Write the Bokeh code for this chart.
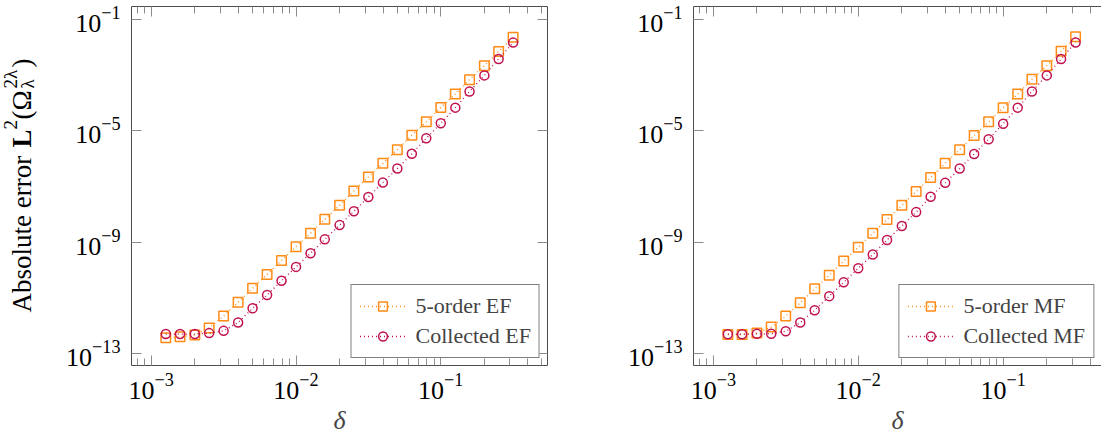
from math import pi
from bokeh.plotting import figure
from bokeh.models import (Range1d, LogAxis, FixedTicker, Legend, LegendItem,
                          CustomJSTickFormatter)
from bokeh.layouts import row
from bokeh.embed import file_html
from bokeh.resources import INLINE
from bokeh.core.properties import value

# ---------------- data ----------------
delta = [0.00126, 0.00158, 0.002, 0.00251, 0.00316, 0.00398, 0.00501, 0.00631, 0.00794,
         0.01, 0.0126, 0.0158, 0.02, 0.0251, 0.0316, 0.0398, 0.0501, 0.0631, 0.0794,
         0.1, 0.126, 0.158, 0.2, 0.251, 0.316]

ef_fifth = [3.7e-13, 4.0e-13, 4.6e-13, 8.3e-13, 2.2e-12, 6.9e-12, 2.2e-11, 6.9e-11, 2.2e-10,
            6.9e-10, 2.1e-9, 6.6e-9, 2.1e-8, 6.9e-8, 2.2e-7, 6.8e-7, 2.1e-6, 6.9e-6, 2.1e-5,
            6.9e-5, 2.1e-4, 6.9e-4, 2.2e-3, 7.1e-3, 2.3e-2]
ef_collected = [5.0e-13, 5.0e-13, 5.0e-13, 5.4e-13, 6.5e-13, 1.3e-12, 4.2e-12, 1.26e-11, 4.1e-11,
                1.29e-10, 4.0e-10, 1.26e-9, 4.1e-9, 1.29e-8, 4.2e-8, 1.38e-7, 4.4e-7, 1.5e-6,
                5.4e-6, 1.86e-5, 6.8e-5, 2.6e-4, 9.8e-4, 3.8e-3, 1.48e-2]

mf_fifth = [4.8e-13, 4.8e-13, 5.5e-13, 8.9e-13, 2.2e-12, 6.6e-12, 2.1e-11, 6.5e-11, 2.1e-10,
            6.5e-10, 2.1e-9, 6.5e-9, 2.1e-8, 6.6e-8, 2.1e-7, 6.8e-7, 2.1e-6, 6.8e-6, 2.1e-5,
            6.8e-5, 2.1e-4, 7.1e-4, 2.2e-3, 7.2e-3, 2.4e-2]
mf_collected = [4.9e-13, 4.9e-13, 5.1e-13, 5.1e-13, 6.3e-13, 1.29e-12, 3.6e-12, 1.15e-11, 3.6e-11,
                1.15e-10, 3.6e-10, 1.2e-9, 3.8e-9, 1.2e-8, 4.3e-8, 1.35e-7, 4.4e-7, 1.48e-6,
                5.0e-6, 1.8e-5, 6.8e-5, 2.6e-4, 9.8e-4, 3.8e-3, 1.5e-2]

x_major_ticks = [1e-3, 1e-2, 1e-1]
x_minor_ticks = [m * d for d in (1e-4, 1e-3, 1e-2, 1e-1) for m in range(2, 10)]
y_major_ticks = [1e-13, 1e-9, 1e-5, 1e-1]

labels_ef = ["5-order EF", "Collected EF"]
labels_mf = ["5-order MF", "Collected MF"]

# y-axis title pieces: Absolute error L^2(Omega^{2 lambda}_lambda)
ylabel_texts = ["Absolute error", "L", "2", "(", "Ω", "2λ", "λ", ")"]

# ---------------- style ----------------
ORANGE = "#ff8a14"
CRIMSON = "#c1124f"
FRAME = "#4d4d4d"
TICK = "#8c8c8c"
SERIF = "Liberation Serif"
HEIGHT = 439
TOP, BOTTOM = 6, 74


def style_axis(ax, show_labels):
    ax.axis_line_color = FRAME
    ax.axis_line_width = 1
    ax.major_tick_in = 10
    ax.major_tick_out = 0
    ax.minor_tick_in = 7
    ax.minor_tick_out = 0
    ax.major_tick_line_color = TICK
    ax.minor_tick_line_color = TICK
    if show_labels:
        ax.major_label_text_font = SERIF
        ax.major_label_text_font_size = "26px"
        ax.major_label_text_color = "black"
    else:
        ax.formatter = CustomJSTickFormatter(code="return ''")
        ax.major_label_text_font_size = "1px"
        ax.major_label_standoff = 0


def make_panel(fifth, collected, names, width, border_left, border_right, x_end, right_axis):
    p = figure(width=width, height=HEIGHT, x_axis_type="log", y_axis_type="log",
               x_range=Range1d(7.3e-4, x_end), y_range=Range1d(3.7e-14, 0.293),
               output_backend="svg", toolbar_location=None,
               min_border_left=border_left, min_border_right=border_right,
               min_border_top=TOP, min_border_bottom=BOTTOM)
    p.grid.visible = False
    p.outline_line_color = None
    p.background_fill_color = "white"
    p.border_fill_color = "white"

    xt = FixedTicker(ticks=x_major_ticks, minor_ticks=x_minor_ticks)
    yt = FixedTicker(ticks=y_major_ticks, minor_ticks=[])

    bx = p.xaxis[0]
    bx.ticker = xt
    style_axis(bx, True)
    bx.major_label_standoff = 8
    bx.axis_label = "δ"
    bx.axis_label_text_font = SERIF
    bx.axis_label_text_font_size = "26px"
    bx.axis_label_text_font_style = "italic"
    bx.axis_label_standoff = 4

    ly = p.yaxis[0]
    ly.ticker = yt
    style_axis(ly, True)
    ly.major_label_standoff = 11

    top = LogAxis(ticker=xt)
    style_axis(top, False)
    p.add_layout(top, "above")

    if right_axis:
        ra = LogAxis(ticker=yt)
        style_axis(ra, False)
        p.add_layout(ra, "right")

    l1 = p.line(delta, fifth, line_color=ORANGE, line_width=1.3, line_dash="1 3")
    s1 = p.scatter(delta, fifth, marker="square", size=9.5, fill_color=None,
                   line_color=ORANGE, line_width=1.5)
    l2 = p.line(delta, collected, line_color=CRIMSON, line_width=1.3, line_dash="1 3")
    s2 = p.scatter(delta, collected, marker="circle", size=9, fill_color=None,
                   line_color=CRIMSON, line_width=1.5)

    legend = Legend(items=[LegendItem(label=names[0], renderers=[l1, s1]),
                           LegendItem(label=names[1], renderers=[l2, s2])],
                    location="bottom_right", margin=7, padding=8, spacing=4,
                    glyph_width=46, glyph_height=22, label_height=22, label_standoff=10,
                    label_text_font=SERIF, label_text_font_size="22px",
                    border_line_color="black", border_line_width=1,
                    background_fill_color="white", background_fill_alpha=1)
    p.add_layout(legend)
    return p


# narrow strip holding the rotated y-axis title; its frame lines up with the
# plot frames (page y 6..365), so data y = 439 - page y.
W0 = 50
p0 = figure(width=W0, height=HEIGHT, x_range=Range1d(0, W0),
            y_range=Range1d(BOTTOM, HEIGHT - TOP),
            output_backend="svg", toolbar_location=None, x_axis_type=None, y_axis_type=None,
            min_border_left=0, min_border_right=0,
            min_border_top=TOP, min_border_bottom=BOTTOM)
p0.grid.visible = False
p0.outline_line_color = None
p0.background_fill_color = "white"
p0.border_fill_color = "white"

BX = 21
piece_x = [BX, BX, BX - 11, BX, BX, BX - 11, BX + 6, BX]
piece_y = [127, 292, 310, 320, 329, 351, 351, 372]
piece_size = ["27px", "27px", "19px", "27px", "27px", "19px", "19px", "27px"]
piece_style = ["normal", "bold", "normal", "normal", "normal", "normal", "normal", "normal"]
for t, px, py, fs, st in zip(ylabel_texts, piece_x, piece_y, piece_size, piece_style):
    p0.text(x=[px], y=[py], text=[t], angle=pi / 2, text_font=value(SERIF),
            text_font_size=value(fs), text_font_style=value(st),
            text_align="left", text_baseline="alphabetic", text_color="black")

p1 = make_panel(ef_fifth, ef_collected, labels_ef, 567 - W0, 131 - W0, 20, 0.546, True)
p2 = make_panel(mf_fifth, mf_collected, labels_mf, 534, 126, 0, 0.477, False)

layout = row(p0, p1, p2)
open("out.html", "w").write(file_html(layout, INLINE))
